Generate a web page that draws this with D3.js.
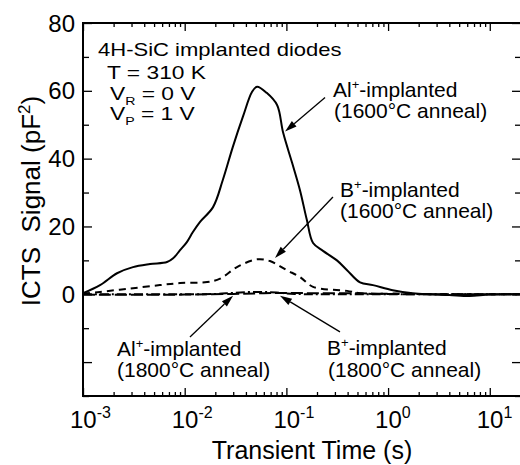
<!DOCTYPE html>
<html>
<head>
<meta charset="utf-8">
<script src="https://cdn.jsdelivr.net/npm/d3@7"></script>
<style>
  html, body { margin: 0; padding: 0; background: #fff; }
  svg text { font-family: "Liberation Sans", Arial, sans-serif; fill: #000; }
</style>
</head>
<body>
<div id="chart"></div>
<script>
// ---- data ----
const al1600T = [1e-3, 1.47e-3, 2.16e-3, 3.1e-3, 4.56e-3, 6.7e-3, 7.7e-3, 9e-3, 1.05e-2, 1.2e-2, 1.41e-2, 1.9e-2,
  2.37e-2, 2.97e-2, 3.73e-2, 4.6e-2, 5.14e-2, 6.4e-2, 8.1e-2, 9.3e-2, 0.114, 0.136, 0.159, 0.183, 0.229,
  0.314, 0.395, 0.53, 0.71, 1.11, 1.75, 2.6, 4, 6.3, 10, 20];
const al1600V = [0.3, 2.7, 6.2, 8.0, 8.9, 9.5, 10.6, 13.0, 15.4, 18.3, 21.3, 25.7,
  33.7, 43.4, 52.3, 59.7, 61.2, 59.4, 55.8, 47.6, 38.7, 30.7, 21.9, 15.1, 12.8,
  10.0, 7.1, 3.5, 2.7, 1.2, 0.3, 0, -0.2, -0.5, -0.1, 0];

const b1600T = [1e-3, 1.47e-3, 2.9e-3, 5.7e-3, 9e-3, 1.66e-2, 2.23e-2, 3.3e-2, 5.14e-2, 6.9e-2, 0.101, 0.136,
  0.183, 0.395, 0.57, 1.2, 3, 20];
const b1600V = [0.2, 0.7, 1.7, 2.7, 3.3, 3.6, 4.6, 8.1, 10.3, 9.8, 7.1, 5.1,
  2.2, 1.0, 0.2, 0.2, 0, 0];

const al1800T = [1e-3, 1e-2, 2e-2, 3e-2, 5e-2, 8e-2, 0.12, 0.3, 1, 20];
const al1800V = [0, 0, 0.1, 0.4, 0.7, 0.5, 0.1, 0, 0, 0];

const b1800T = [1e-3, 1e-2, 3e-2, 6e-2, 0.1, 0.2, 0.5, 1, 2, 20];
const b1800V = [-0.1, -0.1, 0.1, 0.3, 0.4, 0.3, 0.3, 0.1, 0, 0];

const xDecades = [1e-3, 1e-2, 1e-1, 1, 10];
const xExponents = ["-3", "-2", "-1", "0", "1"];
const yMajor = [-20, 0, 20, 40, 60, 80];
const yLabels = [0, 20, 40, 60, 80];
const yMinor = [-30, -10, 10, 30, 50, 70];

// ---- layout ----
const width = 520, height = 465;
const mLeft = 83, mRight = 521, mTop = 23, mBottom = 396;

const svg = d3.select("#chart").append("svg")
  .attr("width", width).attr("height", height);

const x = d3.scaleLog().domain([1e-3, Math.pow(10, 1.307)]).range([mLeft, mRight]);
const y = d3.scaleLinear().domain([-30, 80]).range([mBottom, mTop]);

const xMinor = [];
[-3, -2, -1, 0, 1].forEach(d => {
  for (let k = 2; k <= 9; k++) {
    const v = k * Math.pow(10, d);
    if (v < x.domain()[1]) xMinor.push(v);
  }
});

// ticks (all pointing inward)
function tickAxis(axis, vals, size) {
  return axis.tickValues(vals).tickSize(size).tickFormat(() => "");
}
const axes = [
  [d3.axisBottom(x), xDecades, -8, `translate(0,${mBottom})`],
  [d3.axisBottom(x), xMinor, -4, `translate(0,${mBottom})`],
  [d3.axisTop(x), xDecades, -8, `translate(0,${mTop})`],
  [d3.axisTop(x), xMinor, -4, `translate(0,${mTop})`],
  [d3.axisLeft(y), yMajor, -9, `translate(${mLeft},0)`],
  [d3.axisLeft(y), yMinor, -6, `translate(${mLeft},0)`],
  [d3.axisRight(y), yMajor, -9, `translate(${mRight},0)`],
  [d3.axisRight(y), yMinor, -6, `translate(${mRight},0)`]
];
axes.forEach(([ax, vals, size, tr]) => {
  const g = svg.append("g").attr("transform", tr).call(tickAxis(ax, vals, size));
  g.select(".domain").remove();
  g.selectAll("line").attr("stroke", "#000").attr("stroke-width", 1.3);
});

// frame
svg.append("rect")
  .attr("x", mLeft).attr("y", mTop)
  .attr("width", mRight - mLeft).attr("height", mBottom - mTop)
  .attr("fill", "none").attr("stroke", "#000").attr("stroke-width", 2);

// y tick labels
svg.append("g").selectAll("text")
  .data(yLabels).enter().append("text")
  .attr("x", mLeft - 8)
  .attr("y", d => y(d))
  .attr("dy", "0.36em")
  .attr("text-anchor", "end")
  .style("font-size", "24px")
  .text(d => d);

// x tick labels: 10^n, "10" centred on the tick
const xl = svg.append("g").selectAll("text")
  .data(xDecades).enter().append("text")
  .attr("x", d => x(d) - 13)
  .attr("y", 428)
  .style("font-size", "24px");
xl.append("tspan").text("10");
xl.append("tspan").attr("dy", -10).style("font-size", "16px")
  .text((d, i) => xExponents[i]);

// axis titles
svg.append("text")
  .attr("x", 312).attr("y", 459)
  .attr("text-anchor", "middle")
  .style("font-size", "25px")
  .text("Transient Time (s)");

const yt = svg.append("text")
  .attr("transform", "translate(40,201) rotate(-90)")
  .attr("text-anchor", "middle")
  .style("font-size", "26px");
yt.append("tspan").text("ICTS\u00a0 Signal (pF");
yt.append("tspan").attr("dy", -10).style("font-size", "17px").text("2");
yt.append("tspan").attr("dy", 10).text(")");

// curves
const line = d3.line()
  .x(d => x(d[0]))
  .y(d => y(d[1]))
  .curve(d3.curveCatmullRom.alpha(0.5));

const series = [
  [b1800T, b1800V, "12,4"],
  [al1800T, al1800V, "9,3,2,3"],
  [b1600T, b1600V, "7,5"],
  [al1600T, al1600V, null]
];
series.forEach(([t, v, dash]) => {
  svg.append("path")
    .datum(t.map((tt, i) => [tt, v[i]]))
    .attr("d", line)
    .attr("fill", "none")
    .attr("stroke", "#000")
    .attr("stroke-width", 2)
    .attr("stroke-dasharray", dash);
});

// annotation arrows (tail -> head, in data coords)
const arrows = [
  [[0.24, 58], [0.097, 48]],
  [[0.287, 28.7], [0.0773, 10.7]],
  [[0.01127, -12.6], [0.0299, -0.4]],
  [[0.3365, -11.1], [0.0865, -0.4]]
];
arrows.forEach(([a, b]) => {
  const x1 = x(a[0]), y1 = y(a[1]), x2 = x(b[0]), y2 = y(b[1]);
  const ang = Math.atan2(y2 - y1, x2 - x1);
  const L = 12, hw = 3.6;
  const bx = x2 - L * Math.cos(ang), by = y2 - L * Math.sin(ang);
  svg.append("line")
    .attr("x1", x1).attr("y1", y1).attr("x2", bx).attr("y2", by)
    .attr("stroke", "#000").attr("stroke-width", 1.3);
  svg.append("path")
    .attr("d", `M${x2},${y2}L${bx - hw * Math.sin(ang)},${by + hw * Math.cos(ang)}L${bx + hw * Math.sin(ang)},${by - hw * Math.cos(ang)}Z`)
    .attr("fill", "#000");
});

// text labels
function label(px, py, size, parts, sx) {
  const t = svg.append("text")
    .attr("transform", `translate(${px},${py}) scale(${sx || 1},1)`)
    .style("font-size", size + "px");
  parts.forEach(p => {
    const s = t.append("tspan").text(p.s);
    if (p.sup) s.attr("dy", -8).style("font-size", (size * 0.62) + "px");
    if (p.sub) s.attr("dy", 5).style("font-size", (size * 0.62) + "px");
    if (p.back) s.attr("dy", p.back);
  });
}

label(98, 56, 19, [{ s: "4H-SiC implanted diodes" }], 1.16);
label(107, 79, 19, [{ s: "T = 310 K" }], 1.2);
label(110, 100, 19, [{ s: "V" }, { s: "R", sub: true }, { s: " = 0 V", back: -5 }], 1.2);
label(110, 120, 19, [{ s: "V" }, { s: "P", sub: true }, { s: " = 1 V", back: -5 }], 1.2);

label(333, 97, 21, [{ s: "Al" }, { s: "+", sup: true }, { s: "-implanted", back: 8 }]);
label(334, 118, 21, [{ s: "(1600\u00b0C anneal)" }]);
label(340, 197, 21, [{ s: "B" }, { s: "+", sup: true }, { s: "-implanted", back: 8 }]);
label(340, 218, 21, [{ s: "(1600\u00b0C anneal)" }]);
label(117, 356, 21, [{ s: "Al" }, { s: "+", sup: true }, { s: "-implanted", back: 8 }]);
label(117, 377, 21, [{ s: "(1800\u00b0C anneal)" }]);
label(327, 355, 21, [{ s: "B" }, { s: "+", sup: true }, { s: "-implanted", back: 8 }]);
label(328, 377, 21, [{ s: "(1800\u00b0C anneal)" }]);
</script>
</body>
</html>
